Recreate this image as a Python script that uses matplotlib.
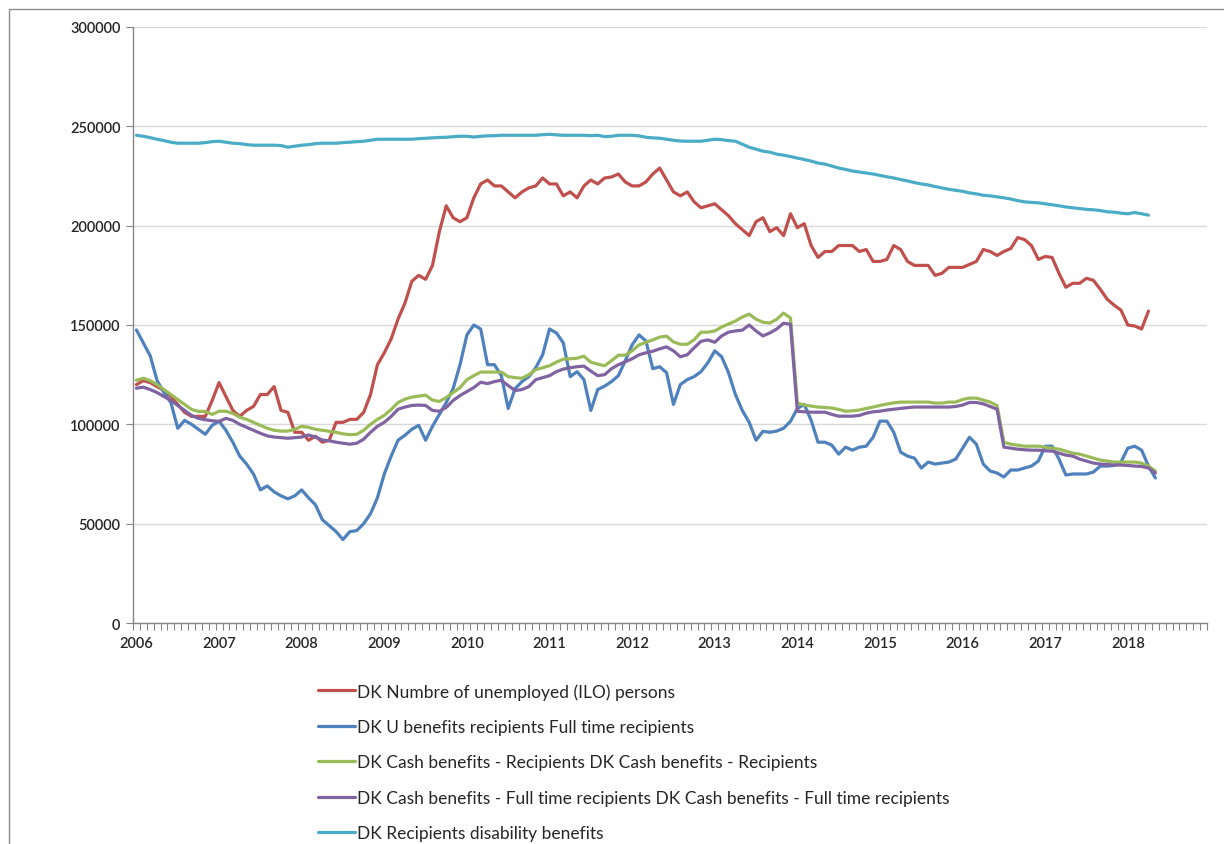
import matplotlib
matplotlib.use("Agg")
import matplotlib.pyplot as plt
from matplotlib.patches import Rectangle
import numpy as np

# ---------------- data (monthly, starting Jan 2006, values in thousands) ----------------
start_year = 2006
year_labels = [str(y) for y in range(2006, 2019)]

unemployed_ilo = [
    120, 122, 121, 119, 117, 114, 110, 106, 104, 104, 104, 112,
    121, 114, 107, 104, 107, 109, 115, 115, 119, 107, 106, 96,
    96, 92, 94, 91, 92, 101, 101, 102.5, 102.5, 106, 115, 130,
    136, 143, 153, 161, 172, 175, 173, 180, 197, 210, 204, 202,
    204, 214, 221, 223, 220, 220, 217, 214, 217, 219, 220, 224,
    221, 221, 215, 217, 214, 220, 223, 221, 224, 224.5, 226, 222,
    220, 220, 222, 226, 229, 223, 217, 215, 217, 212, 209, 210,
    211, 208, 205, 201, 198, 195, 202, 204, 197, 199, 195, 206,
    199, 201, 190, 184, 187, 187, 190, 190, 190, 187, 188, 182,
    182, 183, 190, 188, 182, 180, 180, 180, 175, 176, 179, 179,
    179, 180.5, 182, 188, 187, 185, 187, 188.5, 194, 193, 190, 183,
    184.5, 184, 176, 169, 171, 171, 173.5, 172.5, 168, 163, 160, 157.5,
    150, 149.5, 148, 157,
]

u_benefits_fulltime = [
    147.5, 141, 134.5, 122, 116, 111, 98, 102, 100, 97.5, 95, 99.5,
    101.6, 97, 91, 84, 80, 75, 67, 69, 66, 64, 62.5, 64,
    67, 63, 59.5, 52, 49, 46, 42, 46, 46.5, 50, 55, 63,
    75, 84, 92, 94.5, 97.5, 99.5, 92, 99, 105, 111, 118, 130,
    145, 150, 148, 130, 130, 124.5, 108, 118, 121.5, 124, 128.5, 135,
    148, 146, 141, 124, 126.5, 122.5, 107, 117.5, 119.2, 121.5, 124.5, 132,
    140, 145, 142, 128, 129, 126, 110, 120, 122.5, 124, 126.5, 131,
    137, 134, 126, 115, 107, 101, 92, 96.5, 96, 96.6, 98, 101.5,
    108, 110, 102, 91, 91, 89.5, 85, 88.5, 87, 88.5, 89, 93.5,
    101.6, 101.6, 96, 86, 84, 83, 78, 81, 80, 80.5, 81, 82.5,
    88, 93.5, 90, 80, 76.5, 75.5, 73.5, 77, 77, 78, 79, 81.5,
    89, 89, 82.5, 74.5, 75, 75, 75, 76, 79, 79, 79.3, 81,
    88, 89, 87, 79, 73,
]

cash_recipients = [
    122.2, 123.2, 122, 120, 117.5, 115, 112.5, 110, 107.5, 106.5, 106.5, 105,
    106.6, 106.6, 105.5, 103.6, 102.5, 101, 99.5, 98, 97, 96.6, 96.6, 97.5,
    99, 98.5, 97.5, 97, 96.5, 96, 95.2, 94.8, 95, 97, 100, 102.5,
    104.5, 107.5, 111, 112.7, 113.7, 114.2, 114.7, 112.2, 111.5, 113.5, 116, 118.5,
    122.5, 124.5, 126.3, 126.3, 126.3, 126.3, 124, 123.5, 123.2, 125, 127.5, 128.5,
    129.5, 131.3, 132.8, 133, 133.3, 134.3, 131.3, 130.3, 129.5, 132, 134.8, 134.8,
    137, 140, 141.3, 142.5, 143.9, 144.4, 141.5, 140.3, 140.3, 142.5, 146.4, 146.4,
    147, 149, 150.5, 152, 154, 155.5, 152.9, 151.4, 151, 152.9, 156, 153.5,
    110.7, 109.7, 109.2, 108.7, 108.5, 108.2, 107.5, 106.6, 106.8, 107.2, 108, 108.7,
    109.5, 110.2, 110.8, 111.2, 111.2, 111.2, 111.2, 111.2, 110.7, 110.7, 111.2, 111.2,
    112.5, 113.2, 113.2, 112.2, 111.2, 109.5, 91, 90, 89.5, 89, 89, 89,
    88.5, 88, 87.5, 86.5, 85.5, 85, 84, 83, 82, 81.5, 81, 81,
    81, 81, 80.5, 79, 76.5,
]

cash_fulltime = [
    118.2, 118.7, 117.5, 116, 114, 112, 109.5, 107, 104.5, 103, 102.3, 101.8,
    101.5, 103, 102, 100, 98.5, 97, 95.5, 94.2, 93.6, 93.3, 93, 93.3,
    93.6, 94.6, 93.6, 92.1, 91.7, 91, 90.5, 90, 90.5, 92.5, 96, 99,
    101, 104, 107.6, 108.7, 109.5, 109.7, 109.5, 107, 106.6, 108.5, 112, 114.5,
    116.5, 118.5, 121.2, 120.5, 121.5, 122.2, 119.5, 117, 117.5, 119, 122.5, 123.5,
    124.5, 126.5, 127.8, 128.5, 129, 129.3, 126.8, 124.5, 125, 128, 130, 131.5,
    133, 135, 136, 136.8, 138, 139, 137, 134, 135, 138.5, 141.8, 142.5,
    141.3, 144.5, 146.4, 147, 147.4, 150, 147, 144.5, 146, 148, 150.9, 150.4,
    106.6, 106.3, 106.1, 106.1, 106.1, 105, 104.1, 104.1, 104.1, 104.5, 105.6, 106.3,
    106.6, 107.2, 107.6, 108, 108.4, 108.7, 108.7, 108.7, 108.7, 108.7, 108.7, 109,
    109.7, 111, 111, 110.3, 109, 107.6, 88.5, 88, 87.5, 87.2, 87, 87,
    86.7, 86.5, 85.5, 84.5, 84, 82.5, 81.5, 80.5, 80, 79.8, 79.5, 79.5,
    79.3, 79, 78.8, 78, 75.5,
]

disability = [
    245.5, 245, 244.3, 243.5, 242.8, 242, 241.5, 241.5, 241.5, 241.5, 241.8, 242.3,
    242.5, 242, 241.5, 241.3, 240.8, 240.5, 240.5, 240.5, 240.5, 240.3, 239.5, 240,
    240.5, 240.8, 241.3, 241.5, 241.5, 241.5, 241.8, 242, 242.3, 242.5, 243, 243.5,
    243.5, 243.5, 243.5, 243.5, 243.5, 243.8, 244, 244.2, 244.4, 244.5, 244.8, 245,
    245, 244.6, 245, 245.2, 245.3, 245.5, 245.5, 245.5, 245.5, 245.5, 245.5, 245.8,
    246, 245.7, 245.5, 245.5, 245.5, 245.5, 245.3, 245.5, 244.8, 245, 245.5, 245.5,
    245.5, 245.2, 244.5, 244.2, 244, 243.5, 243, 242.6, 242.5, 242.5, 242.5, 243,
    243.5, 243.3, 242.8, 242.5, 241, 239.5, 238.5, 237.5, 237, 236, 235.5, 234.8,
    234, 233.3, 232.5, 231.5, 231, 230, 229, 228.3, 227.5, 227, 226.5, 226,
    225.3, 224.6, 224, 223.2, 222.5, 221.7, 221, 220.5, 219.7, 219, 218.3, 217.8,
    217.3, 216.5, 216, 215.3, 215, 214.5, 214, 213.4, 212.6, 212, 211.7, 211.5,
    211, 210.5, 210, 209.4, 209, 208.6, 208.2, 208, 207.6, 207, 206.8, 206.3,
    206, 206.6, 206, 205.3,
]

series_names = [
    "DK Numbre of unemployed (ILO) persons",
    "DK U benefits recipients Full time recipients",
    "DK Cash benefits - Recipients DK Cash benefits - Recipients",
    "DK Cash benefits - Full time recipients DK Cash benefits - Full time recipients",
    "DK Recipients disability benefits",
]
series_values = [unemployed_ilo, u_benefits_fulltime, cash_recipients,
                 cash_fulltime, disability]
series_colors = ["#C0504D", "#4F81BD", "#9BBB59", "#8064A2", "#4BACC6"]

n_categories = 156  # Jan 2006 .. Dec 2018 on the category axis

# ---------------- figure ----------------
W, H = 1224, 845
fig = plt.figure(figsize=(W / 100, H / 100), dpi=100)
fig.patch.set_facecolor("white")
plt.rcParams["font.family"] = ["Lato", "DejaVu Sans"]

# outer chart border
fig.patches.append(Rectangle((9 / W, -0.01), 1.5, 1 - 9.5 / H + 0.01,
                             transform=fig.transFigure, fill=False,
                             edgecolor="#8C8C8C", linewidth=1.0))

left, right, bottom, top = 133, 1207, 624, 28
ax = fig.add_axes([left / W, 1 - bottom / H, (right - left) / W, (bottom - top) / H])

lines = []
for name, vals, col in zip(series_names, series_values, series_colors):
    x = np.arange(len(vals))
    y = np.array(vals) * 1000
    ln, = ax.plot(x, y, color=col, linewidth=2.3, solid_joinstyle="round",
                  solid_capstyle="round", label=name)
    lines.append(ln)

ax.set_xlim(-0.5, n_categories - 0.5)
ax.set_ylim(0, 300000)
ax.set_yticks(np.arange(0, 300001, 50000))
ax.set_yticklabels([str(v) for v in range(0, 300001, 50000)])
ax.set_xticks([12 * k for k in range(len(year_labels))])
ax.set_xticklabels(year_labels)
ax.set_xticks(np.arange(-0.5, n_categories, 1.0), minor=True)

ax.grid(axis="y", color="#D9D9D9", linewidth=1.0)
ax.set_axisbelow(True)
for s in ["top", "right"]:
    ax.spines[s].set_visible(False)
for s in ["left", "bottom"]:
    ax.spines[s].set_color("#868686")
    ax.spines[s].set_linewidth(1.0)

ax.tick_params(axis="y", which="major", length=5, color="#868686",
               labelsize=10.5, labelcolor="#262626", pad=4)
ax.tick_params(axis="x", which="major", length=0, labelsize=10.5,
               labelcolor="#262626", pad=9)
ax.tick_params(axis="x", which="minor", length=5, color="#868686", width=0.8)
for lab in ax.get_xticklabels() + ax.get_yticklabels():
    lab.set_fontweight("semibold")

leg = fig.legend(handles=lines, loc="upper left",
                 bbox_to_anchor=(318 / W, 1 - 684 / H), frameon=False,
                 fontsize=12.5, handlelength=2.15, handletextpad=0.12,
                 labelspacing=1.12, borderaxespad=0, borderpad=0)
for t in leg.get_texts():
    t.set_color("#262626")

fig.savefig("out.png", dpi=100, facecolor="white")
